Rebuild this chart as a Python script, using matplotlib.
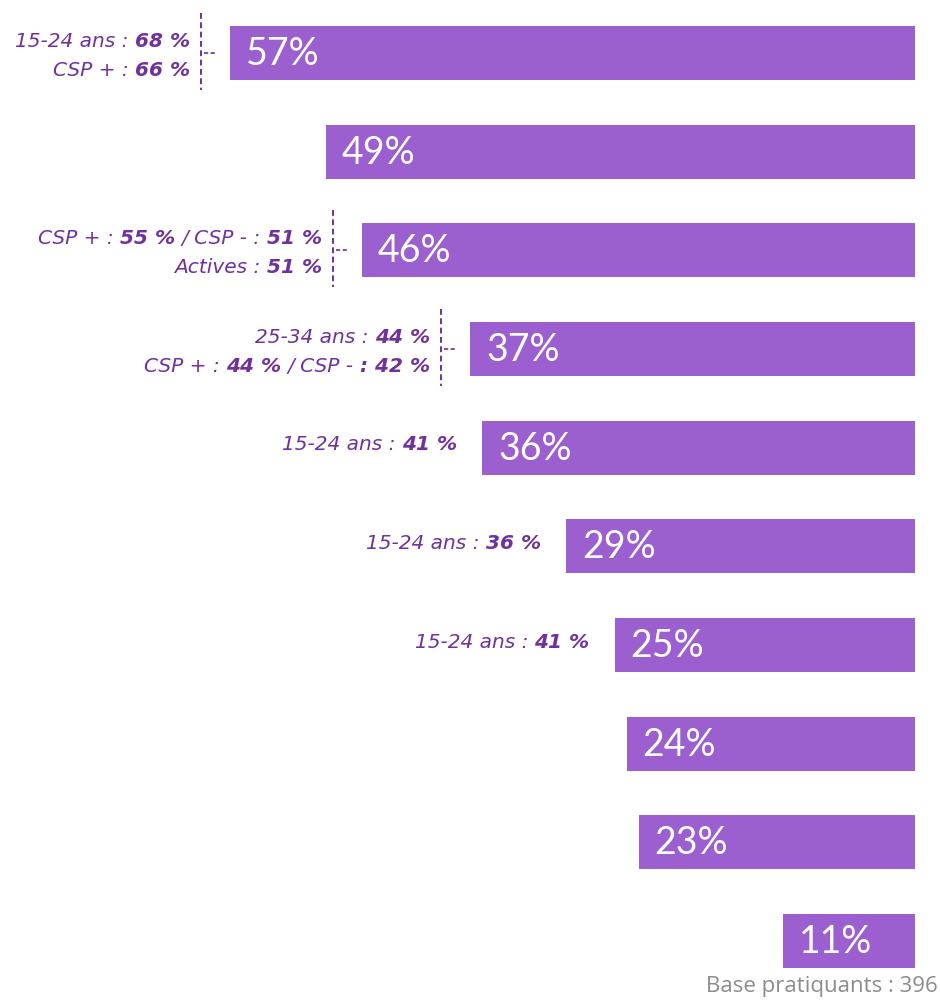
import matplotlib
matplotlib.use('Agg')
import matplotlib.pyplot as plt
from matplotlib.transforms import offset_copy

# Data
values = [57, 49, 46, 37, 36, 29, 25, 24, 23, 11]
value_labels = ['57%', '49%', '46%', '37%', '36%', '29%', '25%', '24%', '23%', '11%']

# annotation lines per row: list of (text, bold) segments
annotations = {
    0: [[('15-24 ans : ', False), ('68 %', True)],
        [('CSP + : ', False), ('66 %', True)]],
    2: [[('CSP + : ', False), ('55 %', True), (' / CSP - : ', False), ('51 %', True)],
        [('Actives : ', False), ('51 %', True)]],
    3: [[('25-34 ans : ', False), ('44 %', True)],
        [('CSP + : ', False), ('44 %', True), (' / CSP - ', False), (': 42 %', True)]],
    4: [[('15-24 ans : ', False), ('41 %', True)]],
    5: [[('15-24 ans : ', False), ('36 %', True)]],
    6: [[('15-24 ans : ', False), ('41 %', True)]],
}
footer = 'Base pratiquants : 396'

BAR_COLOR = '#9b5fcf'
TXT_COLOR = '#7030a0'
FONT = ['Lato', 'DejaVu Sans']
ANN_FONT = ['DejaVu Sans']
ANN_SIZE = 14.5

fig = plt.figure(figsize=(9.4, 10), dpi=100)
ax = fig.add_axes([0, 0, 1, 1])
ax.axis('off')

px_per_pct = 12.02
right_px = 915
row_px = 98.67
first_px = 53
ax.set_xlim(-right_px / px_per_pct, (940 - right_px) / px_per_pct)
ax.set_ylim((1000 - first_px) / row_px, -first_px / row_px)

def px_x(p):
    return p / px_per_pct

def px_y(p):
    return p / row_px

rows = list(range(len(values)))
ax.barh(rows, [-v for v in values], left=0, height=54 / row_px, color=BAR_COLOR)

for i, (v, lab) in enumerate(zip(values, value_labels)):
    ax.text(-v + px_x(16), i + px_y(1), lab, color='white', fontsize=27,
            ha='left', va='center', family=FONT)

renderer = fig.canvas.get_renderer()
space_w = ANN_SIZE * 100 / 72 * 0.32

def seg_line(x, y, segs):
    # draw segments right to left, spaces handled by hand
    off = 0
    for txt, bold in reversed(segs):
        off += (len(txt) - len(txt.rstrip(' '))) * space_w
        core = txt.strip(' ')
        tr = offset_copy(ax.transData, fig=fig, x=-off, y=0, units='dots')
        t = ax.text(x, y, core, ha='right', va='center', color=TXT_COLOR,
                    fontsize=ANN_SIZE, style='italic',
                    fontweight='bold' if bold else 'normal',
                    family=ANN_FONT, transform=tr)
        off += t.get_window_extent(renderer).width
        off += (len(txt) - len(txt.lstrip(' '))) * space_w

for i, lines in annotations.items():
    left = -values[i]
    if len(lines) == 2:
        xr = left - px_x(40)
        seg_line(xr, i - px_y(12), lines[0])
        seg_line(xr, i + px_y(17), lines[1])
        xv = left - px_x(29)
        ax.plot([xv, xv], [i - px_y(40), i + px_y(37)], color=TXT_COLOR,
                lw=1.4, dashes=(3, 1.8))
        ax.plot([xv + px_x(3), xv + px_x(15)], [i, i],
                color=TXT_COLOR, lw=1.2, dashes=(2.5, 1.5))
    else:
        seg_line(left - px_x(25), i - px_y(3), lines[0])

ax.text(px_x(23), (1000 - first_px) / row_px - px_y(3), footer, color='#8c8c8c',
        fontsize=16, ha='right', va='bottom', family=['Open Sans'])

fig.savefig('out.png', dpi=100)
